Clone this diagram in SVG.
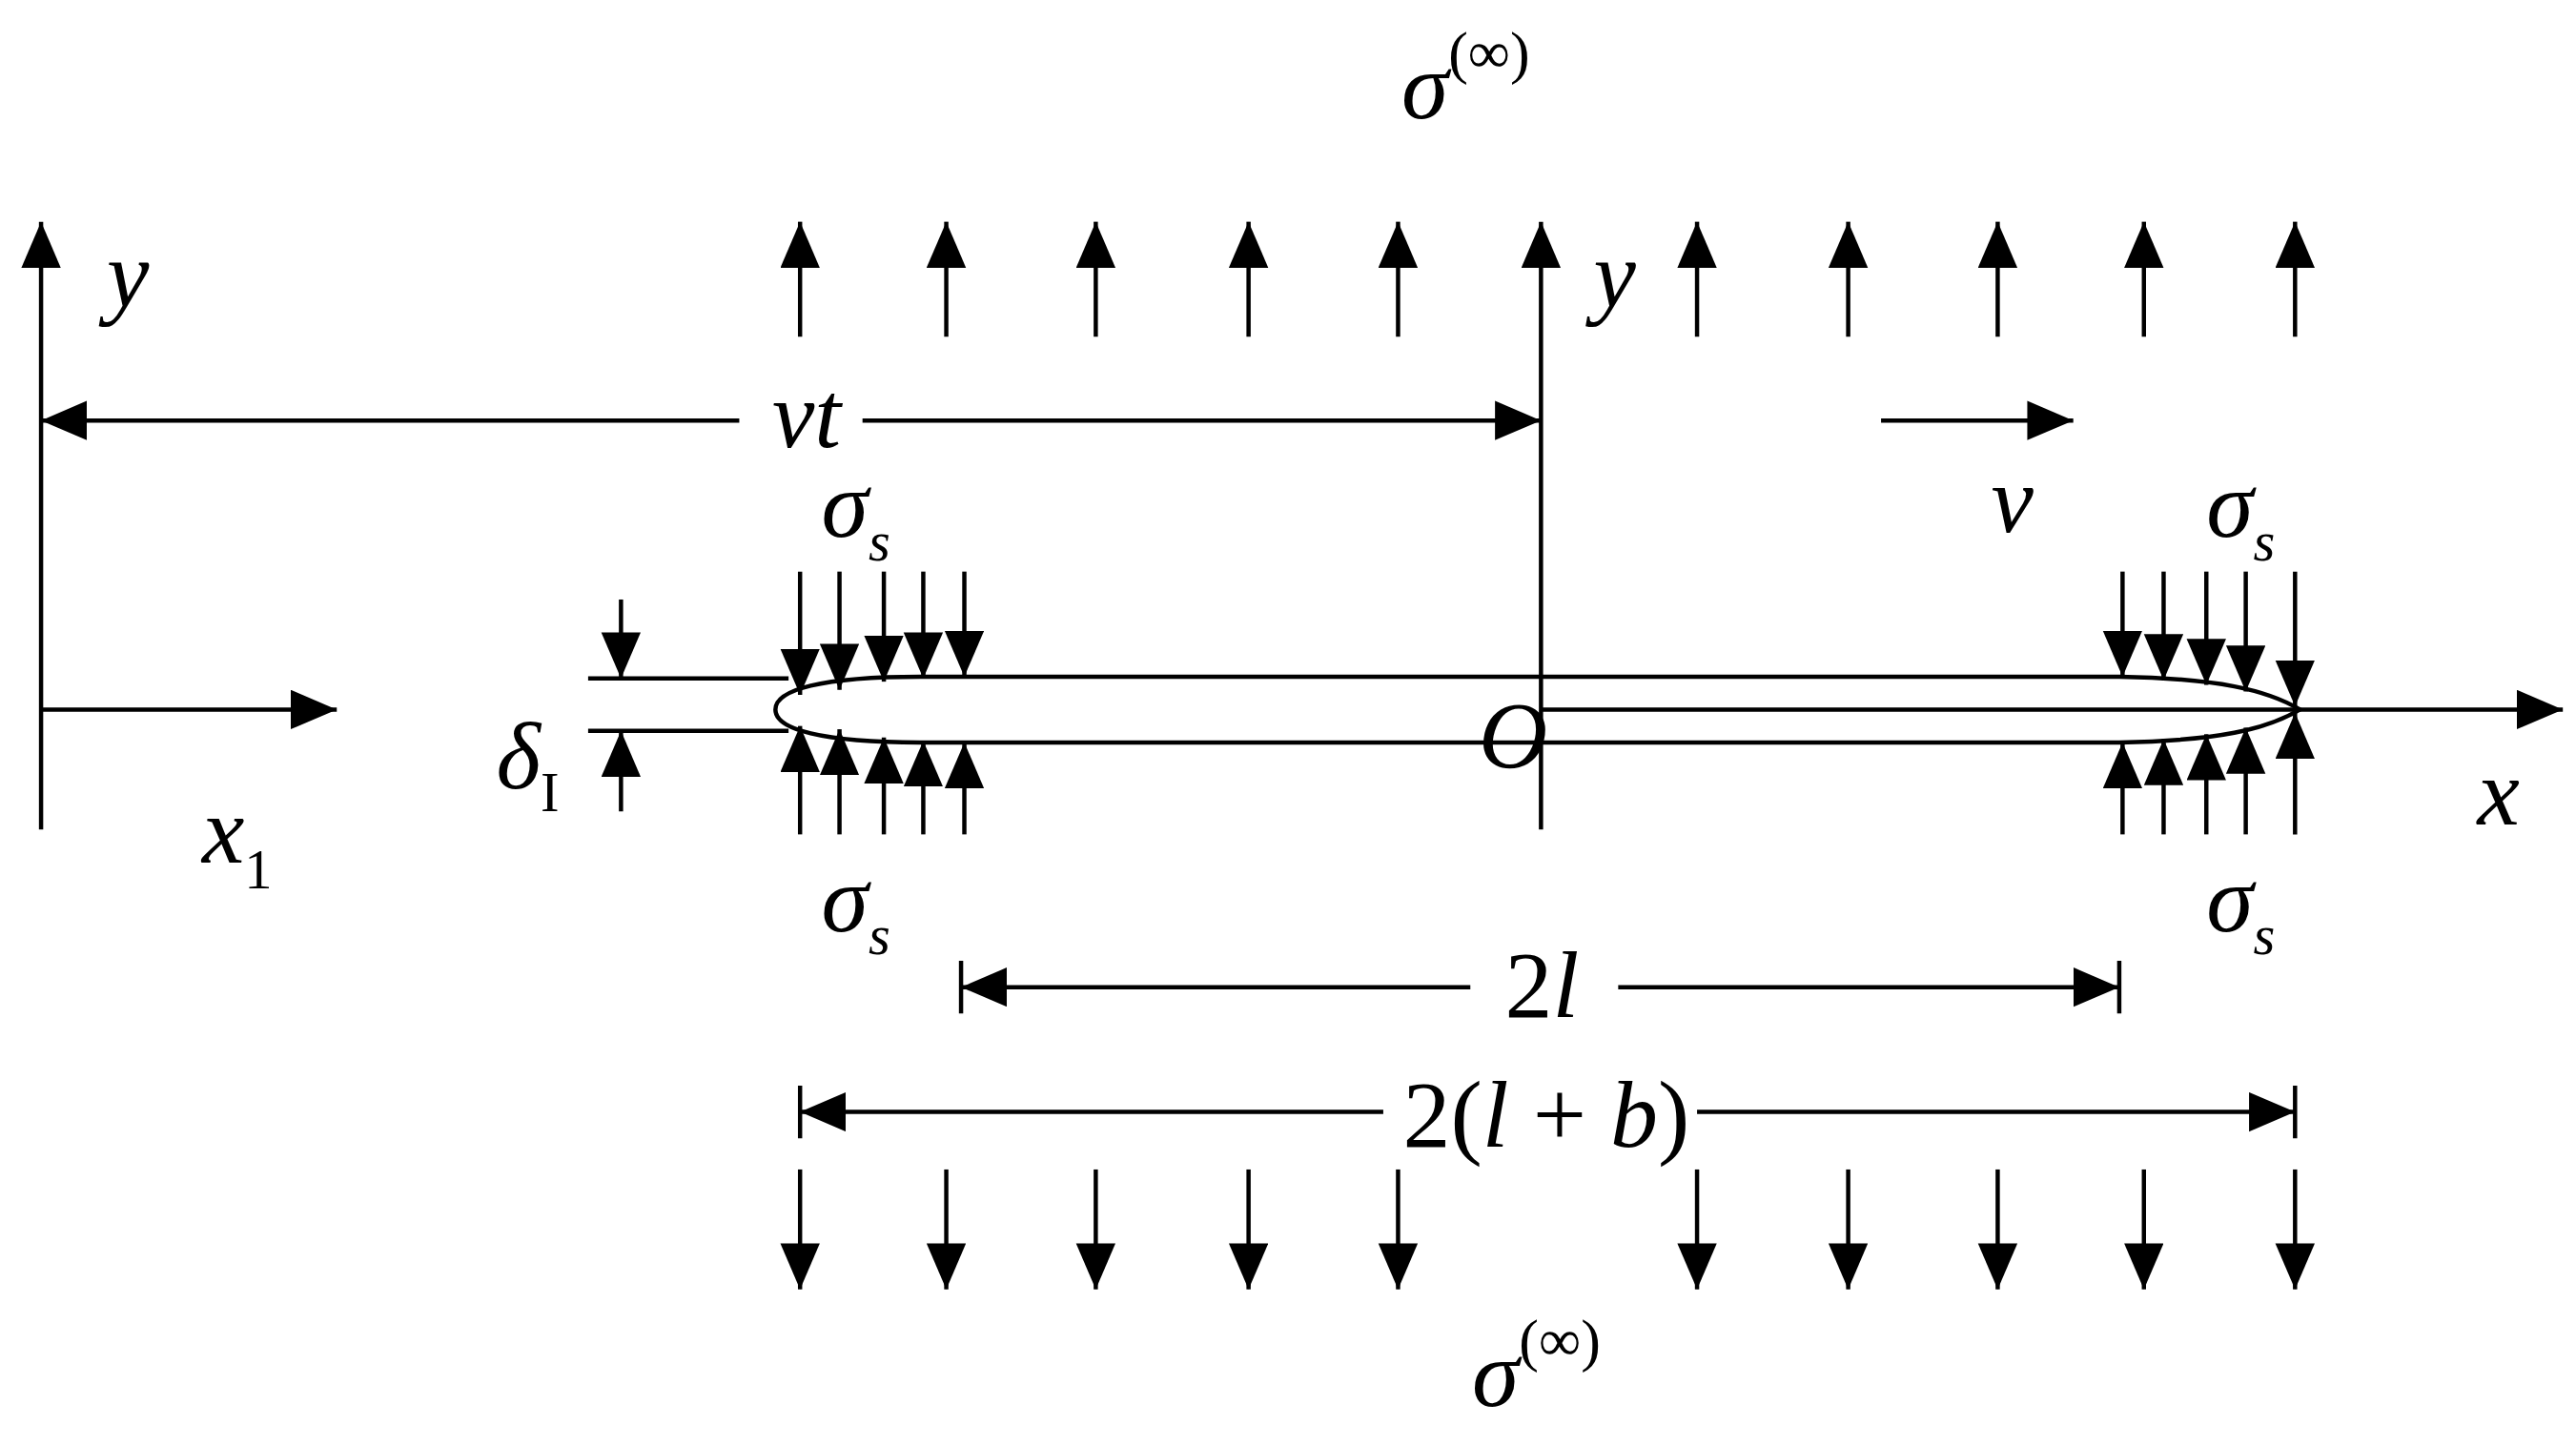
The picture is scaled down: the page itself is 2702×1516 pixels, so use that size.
<svg xmlns="http://www.w3.org/2000/svg" width="2702" height="1516" viewBox="0 0 2702 1516">
<style>
.l{stroke:#000;stroke-width:2.6;fill:none}
.a{stroke:#000;stroke-width:2.6;fill:none;marker-end:url(#ah)}
.t{font-family:"Liberation Serif",serif;font-style:italic;font-size:58px;fill:#000}
.sub{font-family:"Liberation Serif",serif;font-style:italic;font-size:34px;fill:#000}
.up{font-style:normal}
.sup{font-family:"Liberation Serif",serif;font-style:normal;font-size:36px;fill:#000}
</style>
<defs>
<marker id="ah" markerUnits="userSpaceOnUse" markerWidth="30" markerHeight="26" refX="28" refY="12" orient="auto"><path d="M0,0 L28,12 L0,24 Z" fill="#000"/></marker>
</defs>
<rect width="2702" height="1516" fill="#fff"/>
<g transform="scale(1.7232)">
<g id="connectors">
<path class="a" d="M25,505 V135"/>
<path class="a" d="M25,432 H205"/>
<path class="a" d="M938,505 V135"/>
<path class="a" d="M938,432 H1560"/>
<path class="a" d="M450,256 H25"/>
<path class="a" d="M525,256 H938"/>
<path class="a" d="M1145,256 H1262"/>
<path class="a" d="M487,205 V135"/><path class="a" d="M576,205 V135"/><path class="a" d="M667,205 V135"/><path class="a" d="M760,205 V135"/><path class="a" d="M851,205 V135"/>
<path class="a" d="M1033,205 V135"/><path class="a" d="M1125,205 V135"/><path class="a" d="M1216,205 V135"/><path class="a" d="M1305,205 V135"/><path class="a" d="M1397,205 V135"/>
<path class="a" d="M487,712 V785"/><path class="a" d="M576,712 V785"/><path class="a" d="M667,712 V785"/><path class="a" d="M760,712 V785"/><path class="a" d="M851,712 V785"/>
<path class="a" d="M1033,712 V785"/><path class="a" d="M1125,712 V785"/><path class="a" d="M1216,712 V785"/><path class="a" d="M1305,712 V785"/><path class="a" d="M1397,712 V785"/>
<path class="a" d="M378,365 V413"/><path class="a" d="M378,494 V445"/>
<path class="a" d="M487,348 V423"/><path class="a" d="M511,348 V420"/><path class="a" d="M538,348 V415"/><path class="a" d="M562,348 V413"/><path class="a" d="M587,348 V412"/>
<path class="a" d="M487,508 V442"/><path class="a" d="M511,508 V444"/><path class="a" d="M538,508 V449"/><path class="a" d="M562,508 V451"/><path class="a" d="M587,508 V452"/>
<path class="a" d="M1292,348 V412"/><path class="a" d="M1317,348 V414"/><path class="a" d="M1343,348 V417"/><path class="a" d="M1367,348 V421"/><path class="a" d="M1397,348 V430"/>
<path class="a" d="M1292,508 V452"/><path class="a" d="M1317,508 V450"/><path class="a" d="M1343,508 V447"/><path class="a" d="M1367,508 V443"/><path class="a" d="M1397,508 V434"/>
<path class="a" d="M895,601 H585"/><path class="a" d="M985,601 H1290"/>
<path class="l" d="M585,585 V617 M1290,585 V617"/>
<path class="a" d="M842,677 H487"/><path class="a" d="M1033,677 H1397"/>
<path class="l" d="M487,661 V693 M1397,661 V693"/>
</g>
<g id="crack">
<path class="l" d="M358,413 H480 M358,445 H480"/>
<path class="l" d="M938,412 H1290 C1350,413 1380,420 1400,432 C1380,444 1350,451 1290,452 H938"/>
<path class="l" d="M938,412 H560 C500,412 472,420 472,432 C472,444 500,452 560,452 H938"/>
</g>
<g id="labels">
<text class="t" x="853" y="72">σ<tspan class="sup" dy="-28">(∞)</tspan></text>
<text class="t" x="896" y="856">σ<tspan class="sup" dy="-28">(∞)</tspan></text>
<text class="t" x="65" y="187">y</text>
<text class="t" x="970" y="187">y</text>
<text class="t" x="470" y="272">vt</text>
<text class="t" x="1212" y="324">v</text>
<text class="t" x="500" y="327">σ<tspan class="sub" dy="14">s</tspan></text>
<text class="t" x="500" y="567">σ<tspan class="sub" dy="14">s</tspan></text>
<text class="t" x="1343" y="327">σ<tspan class="sub" dy="14">s</tspan></text>
<text class="t" x="1343" y="567">σ<tspan class="sub" dy="14">s</tspan></text>
<text class="t" x="302" y="480">δ<tspan class="sub up" dy="14" font-size="26">I</tspan></text>
<text class="t" x="123" y="525">x<tspan class="sub up" dy="16" font-size="24">1</tspan></text>
<text class="t" x="1508" y="502">x</text>
<text class="t" x="900" y="467">O</text>
<text class="t up" x="916" y="619">2<tspan style="font-style:italic">l</tspan></text>
<text class="t up" x="854" y="698">2(<tspan style="font-style:italic">l</tspan> + <tspan style="font-style:italic">b</tspan>)</text>
</g>
</g>
</svg>
